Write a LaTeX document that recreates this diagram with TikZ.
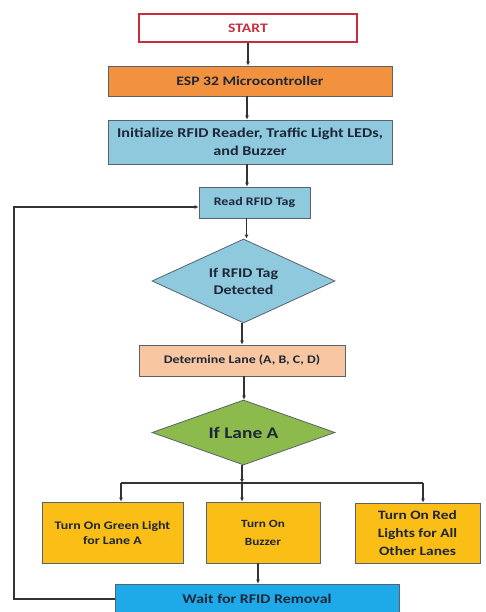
\documentclass[tikz,border=0pt]{standalone}
\usepackage{fontspec}
\setmainfont{Carlito}[FakeStretch=1.2]
\usetikzlibrary{shapes.geometric, arrows.meta, positioning}
\definecolor{startred}{RGB}{200,45,60}
\definecolor{espOrange}{RGB}{243,146,62}
\definecolor{paleblue}{RGB}{142,201,222}
\definecolor{peach}{RGB}{248,198,160}
\definecolor{limegreen}{RGB}{140,186,76}
\definecolor{amber}{RGB}{250,190,22}
\definecolor{skyblue}{RGB}{30,170,232}
\definecolor{inkblue}{RGB}{30,38,55}
\definecolor{edgegray}{RGB}{88,98,112}

\begin{document}
\begin{tikzpicture}[x=1pt, y=-1pt,
    box/.style={draw=edgegray, line width=0.8pt, align=center, text=inkblue, font=\bfseries, inner sep=0pt},
    decision/.style={diamond, aspect=2.2, draw=edgegray, line width=0.8pt, align=center, text=inkblue, font=\bfseries, inner sep=0pt},
    flow/.style={draw=black!80, line width=1.3pt, -{Latex[length=4pt, width=4pt]}},
    link/.style={draw=black!80, line width=1.3pt}]
    \useasboundingbox[fill=white] (0,0) rectangle (485,612);

    \node[box, draw=startred, line width=1.4pt, text=startred, fill=white, minimum width=218pt, minimum height=28pt, font=\bfseries\fontsize{13}{15}\selectfont] (start) at (248,28) {START};
    \node[box, fill=espOrange, minimum width=284pt, minimum height=30pt, font=\bfseries\fontsize{13}{15}\selectfont] (esp) at (250,81) {ESP 32 Microcontroller};
    \node[box, fill=paleblue, minimum width=284pt, minimum height=44pt, font=\bfseries\fontsize{13.5}{18}\selectfont] (init) at (250,142) {Initialize RFID Reader, Traffic Light LEDs,\\and Buzzer};
    \node[box, fill=paleblue, minimum width=111pt, minimum height=31pt, font=\bfseries\fontsize{11.6}{13}\selectfont] (read) at (254.5,202.5) {Read RFID Tag};
    \node[decision, fill=paleblue, minimum width=183pt, minimum height=84pt, font=\bfseries\fontsize{13.3}{17}\selectfont] (detect) at (243.5,281) {If RFID Tag\\Detected};
    \node[box, fill=peach, minimum width=206pt, minimum height=31pt, font=\bfseries\fontsize{11.6}{13}\selectfont] (lane) at (242,360.5) {Determine Lane (A, B, C, D)};
    \node[decision, fill=limegreen, minimum width=183pt, minimum height=65pt, font=\bfseries\fontsize{16.2}{19}\selectfont] (laneA) at (243.5,432.5) {If Lane A};

    \node[box, fill=amber, minimum width=141pt, minimum height=61pt, font=\bfseries\fontsize{11.6}{15}\selectfont] (green) at (112.5,532.5) {Turn On Green Light\\for Lane A};
    \node[box, fill=amber, minimum width=114pt, minimum height=61pt, font=\bfseries\fontsize{11}{18}\selectfont] (buzzer) at (263,532.5) {Turn On\\Buzzer};
    \node[box, fill=amber, minimum width=125pt, minimum height=60pt, font=\bfseries\fontsize{12.8}{18}\selectfont] (red) at (417.5,533) {Turn On Red\\Lights for All\\Other Lanes};
    \node[box, fill=skyblue, minimum width=284pt, minimum height=30pt, font=\bfseries\fontsize{13.3}{15}\selectfont] (wait) at (257,599) {Wait for RFID Removal};

    \coordinate (split) at (242,483);
    \coordinate (corner) at (14,599);

    \draw[flow] (start.south) -- (start.south |- esp.north);
    \draw[flow] ([xshift=-3pt]esp.south) -- ([xshift=-3pt]esp.south |- init.north);
    \draw[flow] ([xshift=-3pt]init.south) -- ([xshift=-3pt]init.south |- read.north);
    \draw[flow] ([xshift=-8pt]read.south) -- ([xshift=-8pt]read.south |- detect.north);
    \draw[flow] ([xshift=-1.5pt]detect.south) -- ([xshift=-1.5pt]detect.south |- lane.north);
    \draw[flow] ([xshift=2pt]lane.south) -- ([xshift=2pt]lane.south |- laneA.north);
    \draw[flow] ([xshift=-1.5pt]laneA.south) -- (split);
    \draw[link] (split -| 121,0) -- (split -| 423,0);
    \draw[flow] (split -| 121,0) -- (green.north -| 121,0);
    \draw[flow] (split) -- (split |- buzzer.north);
    \draw[flow] (split -| 423,0) -- (red.north -| 423,0);
    \draw[flow] ([xshift=-5pt]buzzer.south) -- ([xshift=-5pt]buzzer.south |- wait.north);
    \draw[flow] (wait.west) -- (corner) |- ([yshift=-4.5pt]read.west);
\end{tikzpicture}
\end{document}
